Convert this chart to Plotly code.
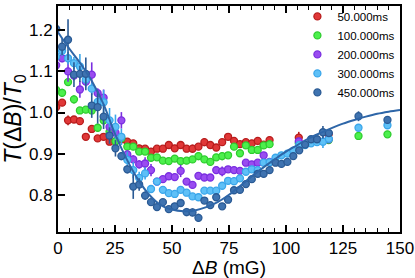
import plotly.graph_objects as go

# shared field grid (mG)
grid = [-0.8, 1.8, 4.4, 7.0, 9.6, 12.2, 14.8, 17.4, 20.0, 22.6, 25.2, 27.8, 30.4, 33.0,
        35.6, 38.2, 40.8, 43.4, 46.0, 48.6, 51.2, 53.8, 56.4, 59.0, 61.6, 64.2, 66.8,
        69.4, 72.0, 74.6, 77.2, 79.8, 82.4, 85.0, 87.6, 90.2, 92.8]
grid_tail_short = [105.6, 118.7]
grid_tail_long = [105.6, 118.7, 131.8, 144.5]
grid_blue_tail = [95.4, 98.0, 100.6, 103.2, 105.8, 108.4, 111.0, 113.6, 116.2, 118.8, 131.8, 144.5]

labels = ["50.000ms", "100.000ms", "200.000ms", "300.000ms", "450.000ms"]

x_50 = grid + grid_tail_short
y_50 = [1.013, 1.024, 0.981, 0.983, 0.979, 0.941, 0.960, 0.937, 0.941, 0.929, 0.930, 0.935, 0.929, 0.925,
        0.913, 0.912, 0.905, 0.912, 0.912, 0.921, 0.913, 0.921, 0.912, 0.912, 0.917, 0.928, 0.921,
        0.915, 0.928, 0.941, 0.931, 0.923, 0.928, 0.925, 0.931, 0.922, 0.933,
        0.939, 0.947]
e_50 = [0.008, 0.008, 0.012, 0.005, 0.005, 0.005, 0.005, 0.005, 0.006, 0.006, 0.005, 0.006, 0.005, 0.006,
        0.006, 0.005, 0.005, 0.005, 0.005, 0.005, 0.005, 0.005, 0.008, 0.010, 0.005, 0.010, 0.006,
        0.005, 0.005, 0.005, 0.005, 0.005, 0.005, 0.005, 0.005, 0.005, 0.006,
        0.014, 0.008]

x_100 = grid + grid_tail_long
y_100 = [1.055, 1.048, 1.074, 1.032, 1.005, 1.007, 1.005, 0.963, 0.981, 0.953, 0.930, 0.937, 0.917, 0.917,
         0.905, 0.905, 0.890, 0.891, 0.883, 0.882, 0.888, 0.882, 0.883, 0.886, 0.894, 0.886, 0.880,
         0.891, 0.894, 0.896, 0.917, 0.901, 0.920, 0.909, 0.909, 0.920, 0.923,
         0.925, 0.933, 0.943, 0.947]
e_100 = [0.008, 0.010, 0.008, 0.010, 0.008, 0.006, 0.006, 0.010, 0.012, 0.010, 0.008, 0.008, 0.008, 0.006,
         0.006, 0.006, 0.005, 0.005, 0.005, 0.005, 0.005, 0.005, 0.005, 0.005, 0.010, 0.005, 0.005,
         0.005, 0.010, 0.005, 0.005, 0.005, 0.005, 0.005, 0.005, 0.005, 0.005,
         0.006, 0.005, 0.004, 0.004]

x_200 = grid + grid_tail_short
y_200 = [1.115, 1.132, 1.100, 1.090, 1.056, 1.075, 1.092, 1.047, 1.036, 0.965, 0.951, 0.981, 0.898, 0.886,
         0.874, 0.876, 0.860, 0.832, 0.838, 0.845, 0.843, 0.858, 0.832, 0.824, 0.846, 0.842, 0.842,
         0.860, 0.857, 0.862, 0.860, 0.858, 0.878, 0.874, 0.878, 0.896, 0.880,
         0.930, 0.935]
e_200 = [0.010, 0.010, 0.025, 0.012, 0.020, 0.012, 0.030, 0.012, 0.020, 0.012, 0.012, 0.020, 0.010, 0.010,
         0.010, 0.015, 0.015, 0.006, 0.006, 0.006, 0.006, 0.015, 0.006, 0.006, 0.006, 0.006, 0.006,
         0.006, 0.012, 0.006, 0.006, 0.006, 0.006, 0.006, 0.006, 0.006, 0.006,
         0.008, 0.008]

x_300 = grid + grid_blue_tail
y_300 = [1.136, 1.150, 1.132, 1.120, 1.112, 1.080, 1.058, 1.026, 1.025, 0.981, 0.965, 0.941, 0.885, 0.860,
         0.841, 0.852, 0.814, 0.832, 0.812, 0.804, 0.802, 0.812, 0.805, 0.796, 0.794, 0.810, 0.810,
         0.810, 0.822, 0.834, 0.833, 0.840, 0.856, 0.862, 0.860, 0.878, 0.879,
         0.890, 0.896, 0.900, 0.907, 0.921, 0.921, 0.925, 0.928, 0.929, 0.936, 0.963, 0.969]
e_300 = [0.010, 0.012, 0.015, 0.015, 0.030, 0.015, 0.015, 0.020, 0.030, 0.030, 0.030, 0.020, 0.020, 0.020,
         0.015, 0.015, 0.008, 0.008, 0.006, 0.006, 0.006, 0.006, 0.006, 0.006, 0.006, 0.006, 0.006,
         0.006, 0.006, 0.006, 0.010, 0.006, 0.006, 0.006, 0.006, 0.006, 0.006,
         0.006, 0.006, 0.006, 0.006, 0.006, 0.006, 0.006, 0.006, 0.015, 0.006, 0.005, 0.005]

x_450 = grid + grid_blue_tail
y_450 = [1.203, 1.160, 1.177, 1.092, 1.094, 1.094, 1.017, 1.013, 0.990, 0.944, 0.913, 0.894, 0.862, 0.820,
         0.825, 0.798, 0.782, 0.770, 0.782, 0.765, 0.772, 0.780, 0.758, 0.757, 0.744, 0.786, 0.775,
         0.794, 0.772, 0.788, 0.811, 0.812, 0.826, 0.838, 0.851, 0.851, 0.860,
         0.878, 0.875, 0.880, 0.894, 0.908, 0.922, 0.935, 0.935, 0.952, 0.950, 0.991, 0.982]
e_450 = [0.015, 0.020, 0.050, 0.030, 0.020, 0.040, 0.030, 0.040, 0.030, 0.020, 0.020, 0.010, 0.010, 0.030,
         0.015, 0.010, 0.008, 0.008, 0.008, 0.008, 0.008, 0.008, 0.010, 0.010, 0.010, 0.006, 0.006,
         0.006, 0.006, 0.006, 0.006, 0.006, 0.006, 0.006, 0.006, 0.006, 0.006,
         0.006, 0.006, 0.006, 0.006, 0.006, 0.006, 0.006, 0.006, 0.015, 0.008, 0.012, 0.006]

# fitted curve for 450 ms
fit_x = [0, 5, 10, 15, 20, 25, 30, 35, 40, 45, 50, 55, 60, 65, 70, 75, 80, 85, 90, 95,
         100, 105, 110, 115, 120, 125, 130, 135, 140, 145, 150]
fit_y = [1.195, 1.155, 1.118, 1.075, 1.020, 0.948, 0.888, 0.838, 0.800, 0.775, 0.764, 0.760,
         0.762, 0.770, 0.782, 0.800, 0.822, 0.845, 0.866, 0.886, 0.905, 0.921, 0.937, 0.950,
         0.962, 0.973, 0.982, 0.990, 0.997, 1.002, 1.006]

fills = ["#e03838", "#4cf04c", "#9a4cf0", "#5ec0f7", "#3f73b0"]
edges = ["#b81c1c", "#2ecc2e", "#7a2ee0", "#3aa6ea", "#2a5a94"]
series = [(x_50, y_50, e_50), (x_100, y_100, e_100), (x_200, y_200, e_200),
          (x_300, y_300, e_300), (x_450, y_450, e_450)]

fig = go.Figure()
for (xs, ys, es), name, fc, ec in zip(series, labels, fills, edges):
    fig.add_trace(go.Scatter(
        x=xs, y=ys, mode="markers", name=name,
        error_y=dict(type="data", array=es, visible=True, color=ec, thickness=1.6, width=0),
        marker=dict(size=7, color=fc, line=dict(color=ec, width=1.3)),
    ))

fig.add_trace(go.Scatter(x=fit_x, y=fit_y, mode="lines", line=dict(color="#2e66a8", width=2, shape="spline"),
                         showlegend=False))

fig.update_layout(
    width=415, height=278,
    margin=dict(l=57.7, r=14.5, t=1.5, b=45.7),
    paper_bgcolor="white", plot_bgcolor="white",
    font=dict(family="Liberation Sans, Arial, sans-serif", color="black"),
    showlegend=True,
    legend=dict(x=0.70, y=1.018, xanchor="left", yanchor="top", bgcolor="rgba(0,0,0,0)",
                font=dict(size=11.5), tracegroupgap=0),
)
fig.update_xaxes(
    range=[0, 150], showline=True, linecolor="black", linewidth=2, mirror="ticks",
    ticks="inside", ticklen=7, tickwidth=1.5, tickcolor="black", dtick=25, tick0=0,
    minor=dict(ticks="inside", ticklen=4, dtick=5, tickwidth=1.2, tickcolor="black"),
    showgrid=False, zeroline=False, tickfont=dict(size=17),
    title=dict(text="Δ<i>B</i> (mG)", font=dict(size=19), standoff=6),
)
fig.update_yaxes(
    range=[0.7095, 1.259], showline=True, linecolor="black", linewidth=2, mirror=True,
    ticks="inside", ticklen=7, tickwidth=1.5, tickcolor="black", dtick=0.1, tick0=0,
    tickformat=".1f", showgrid=False, zeroline=False, tickfont=dict(size=17),
    title=dict(text="<i>T</i>(Δ<i>B</i>)/<i>T</i><sub>0</sub>", font=dict(size=23), standoff=4),
)

fig.write_html("out.html", config={"displayModeBar": False},
               post_script="document.body.style.margin='0';")
